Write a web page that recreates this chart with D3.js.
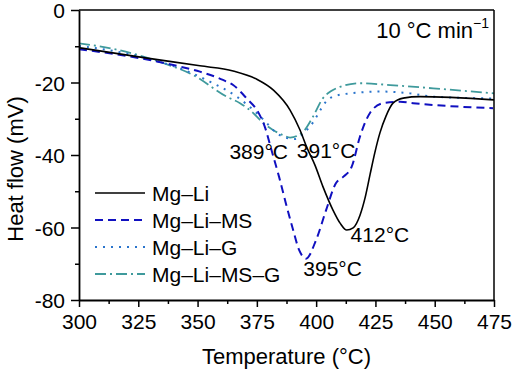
<!DOCTYPE html>
<html>
<head>
<meta charset="utf-8">
<script src="https://cdn.jsdelivr.net/npm/d3@7"></script>
<style>
  body { margin: 0; background: #fff; }
  svg { font-family: "Liberation Sans", Arial, sans-serif; }
</style>
</head>
<body>
<svg id="chart"></svg>
<script>
// ---- data (temperature in °C, heat flow in mV) ----
const tempLi = [300, 328, 351, 365, 375, 382, 389, 393.2, 396.2, 399.5, 402.9, 407.1, 410.1, 412.9, 415.6, 418.5, 420.6, 422.7, 424.8, 426.9, 429.5, 432.4, 436.7, 443.8, 475];
const flowLi = [-10.4, -13.2, -15.4, -16.8, -19.1, -22.1, -27.6, -33.1, -38.1, -42.8, -48.8, -55.2, -58.8, -60.7, -60.1, -56.6, -51.9, -45.5, -39.2, -33.9, -29.2, -25.7, -24.3, -23.9, -24.8];

const tempMS = [300, 325.7, 342.6, 351, 360.7, 365, 370.7, 375.5, 378.4, 381.4, 384.4, 387.3, 390.3, 392.8, 394.5, 395.7, 400, 404.2, 408.4, 411.3, 415, 418.5, 422.7, 428.2, 435.4, 440.9, 474.6];
const flowMS = [-10.8, -13.3, -15.6, -17, -19.3, -20.7, -24.4, -28.1, -32.3, -39.2, -46.1, -53.5, -60.7, -66.2, -68.1, -68.6, -63.4, -55.2, -47.7, -46.1, -43.2, -34.9, -28.4, -25.7, -25.3, -25.7, -27.1];

const tempG = [300, 320, 335, 342.6, 355.3, 366.5, 374.9, 379.2, 383.4, 387, 391, 395.7, 398.7, 401.6, 404.5, 407.1, 414.3, 428.2, 439.6, 449.3, 475];
const flowG = [-9.9, -12.0, -14.5, -16.1, -19.8, -23.9, -28.4, -31.2, -34.0, -35.2, -35.6, -33.4, -31, -27.8, -25, -23.9, -23.0, -22.5, -23.0, -23.9, -24.4];

const tempMSG = [300, 315, 334, 348, 362.3, 367.9, 373.4, 376.3, 381.8, 386, 389, 394.5, 398.7, 402.9, 406, 410.1, 418.5, 431.2, 449.3, 475];
const flowMSG = [-9.2, -10.8, -14.3, -17.9, -23.9, -25.7, -28.4, -30.3, -33.1, -34.5, -35.2, -33.6, -29.4, -24.3, -22.5, -21.2, -20.2, -20.7, -21.6, -23.0];

const seriesNames = ["Mg\u2013Li", "Mg\u2013Li\u2013MS", "Mg\u2013Li\u2013G", "Mg\u2013Li\u2013MS\u2013G"];

const peakTemps = [389, 391, 412, 395];
const peakFlows = [-35.2, -35.6, -60.7, -68.6];
const peakLabels = ["389\u00b0C", "391\u00b0C", "412\u00b0C", "395\u00b0C"];

const xTicks = [300, 325, 350, 375, 400, 425, 450, 475];
const yTicks = [0, -20, -40, -60, -80];

// ---- layout ----
const width = 512, height = 374;
const margin = { top: 10, right: 18, bottom: 74, left: 79 };
const innerW = width - margin.left - margin.right;
const innerH = height - margin.top - margin.bottom;

const svg = d3.select("#chart").attr("width", width).attr("height", height);
const chart = svg.append("g").attr("transform", `translate(${margin.left},${margin.top})`);

const x = d3.scaleLinear().domain([300, 475]).range([0, innerW]);
const y = d3.scaleLinear().domain([-80, 0]).range([innerH, 0]);

const styles = [
  { color: "#000000", width: 1.6, dash: null },
  { color: "#1010c0", width: 2, dash: "8,5" },
  { color: "#2a74cc", width: 2, dash: "2,6" },
  { color: "#3f9a9c", width: 1.8, dash: "11,4,2,4" }
];

const series = [
  tempLi.map((t, i) => [t, flowLi[i]]),
  tempMS.map((t, i) => [t, flowMS[i]]),
  tempG.map((t, i) => [t, flowG[i]]),
  tempMSG.map((t, i) => [t, flowMSG[i]])
];

chart.append("defs").append("clipPath").attr("id", "clipPlot")
  .append("rect").attr("width", innerW).attr("height", innerH);

const line = d3.line().x(d => x(d[0])).y(d => y(d[1])).curve(d3.curveMonotoneX);

const lines = chart.append("g").attr("clip-path", "url(#clipPlot)");
// draw from back to front: MS-G, G, MS, Li
[3, 2, 1, 0].forEach(i => {
  lines.append("path")
    .datum(series[i])
    .attr("fill", "none")
    .attr("stroke", styles[i].color)
    .attr("stroke-width", styles[i].width)
    .attr("stroke-dasharray", styles[i].dash)
    .attr("d", line);
});

// frame (top and right)
chart.append("line").attr("x1", 0).attr("x2", innerW).attr("y1", 0).attr("y2", 0)
  .attr("stroke", "#000").attr("stroke-width", 1.5);
chart.append("line").attr("x1", innerW).attr("x2", innerW).attr("y1", 0).attr("y2", innerH)
  .attr("stroke", "#000").attr("stroke-width", 1.5);

// minor ticks
const xMinor = d3.range(312.5, 475, 25);
const yMinor = d3.range(-70, 0, 20);
chart.append("g").attr("transform", `translate(0,${innerH})`)
  .call(d3.axisBottom(x).tickValues(xMinor).tickSize(4).tickSizeOuter(0).tickFormat(""))
  .call(g => g.select(".domain").remove())
  .selectAll("line").attr("stroke-width", 1.5);
chart.append("g")
  .call(d3.axisLeft(y).tickValues(yMinor).tickSize(4).tickSizeOuter(0).tickFormat(""))
  .call(g => g.select(".domain").remove())
  .selectAll("line").attr("stroke-width", 1.5);

// major axes
const xAxis = chart.append("g").attr("transform", `translate(0,${innerH})`)
  .call(d3.axisBottom(x).tickValues(xTicks).tickSize(7).tickSizeOuter(0).tickPadding(6).tickFormat(d => d));
const yAxis = chart.append("g")
  .call(d3.axisLeft(y).tickValues(yTicks).tickSize(8).tickSizeOuter(0).tickPadding(6).tickFormat(d => String(d)));

[xAxis, yAxis].forEach(a => {
  a.select(".domain").attr("stroke-width", 1.8);
  a.selectAll(".tick line").attr("stroke-width", 1.5);
  a.selectAll(".tick text").attr("font-size", 21).attr("fill", "#000")
    .attr("font-family", "'Liberation Sans', Arial, sans-serif");
});
xAxis.selectAll(".tick text").attr("dy", "0.78em");
yAxis.selectAll(".tick text").attr("dy", "0.36em");

// axis titles
svg.append("text")
  .attr("x", margin.left + innerW / 2).attr("y", 364)
  .attr("text-anchor", "middle").attr("font-size", 22)
  .text("Temperature (\u00b0C)");
svg.append("text")
  .attr("transform", `translate(23,${margin.top + innerH / 2 + 14}) rotate(-90)`)
  .attr("text-anchor", "middle").attr("font-size", 22)
  .text("Heat flow (mV)");

// heating rate note
const note = svg.append("text")
  .attr("x", 489).attr("y", 38).attr("text-anchor", "end").attr("font-size", 22);
note.append("tspan").text("10 \u00b0C min");
note.append("tspan").attr("font-size", 14).attr("dy", -10).text("\u22121");

// peak labels
const peakOffsets = [
  { dx: -2, dy: 21, anchor: "end" },
  { dx: 2, dy: 19, anchor: "start" },
  { dx: 6, dy: 12, anchor: "start" },
  { dx: -1, dy: 17, anchor: "start" }
];
peakTemps.forEach((t, i) => {
  chart.append("text")
    .attr("x", x(t) + peakOffsets[i].dx)
    .attr("y", y(peakFlows[i]) + peakOffsets[i].dy)
    .attr("text-anchor", peakOffsets[i].anchor)
    .attr("font-size", 21)
    .text(peakLabels[i]);
});

// legend
const legend = svg.append("g").attr("transform", "translate(95,193)");
seriesNames.forEach((name, i) => {
  const row = legend.append("g").attr("transform", `translate(0,${i * 27})`);
  row.append("line").attr("x1", 0).attr("x2", 50).attr("y1", 0).attr("y2", 0)
    .attr("stroke", styles[i].color).attr("stroke-width", styles[i].width)
    .attr("stroke-dasharray", styles[i].dash);
  row.append("text").attr("x", 57).attr("y", 7.5).attr("font-size", 21).text(name);
});
</script>
</body>
</html>
